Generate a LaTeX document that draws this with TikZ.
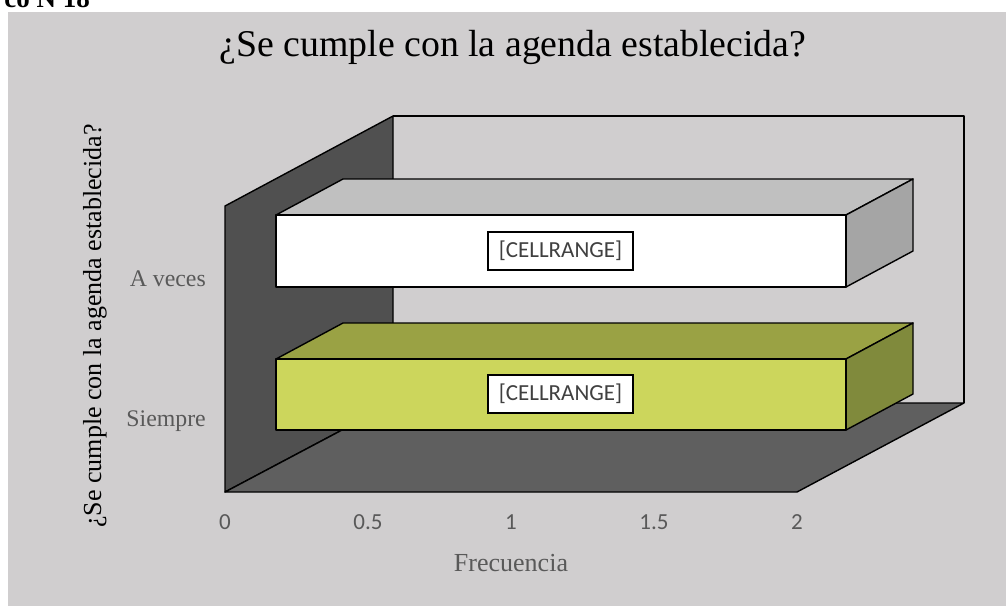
\documentclass[tikz,border=0pt]{standalone}
\usepackage{fontspec}
\setmainfont{Liberation Serif}
\newfontfamily\calibri{Carlito}
\definecolor{bgc}{RGB}{208,206,207}
\definecolor{wallc}{RGB}{80,80,80}
\definecolor{floorc}{RGB}{95,95,95}
\definecolor{wfront}{RGB}{255,255,255}
\definecolor{wtop}{RGB}{192,192,192}
\definecolor{wside}{RGB}{165,165,165}
\definecolor{gfront}{RGB}{204,214,92}
\definecolor{gtop}{RGB}{154,162,68}
\definecolor{gside}{RGB}{128,138,60}
\definecolor{labc}{RGB}{89,89,89}
\definecolor{cellc}{RGB}{64,64,64}
\begin{document}
\begin{tikzpicture}[x=1pt,y=-1pt,
  edge/.style={draw=black,line width=1.4pt,line join=round},
  ticklab/.style={font=\calibri\fontsize{23}{25}\selectfont,text=labc},
  catlab/.style={font=\fontsize{23.8}{26}\selectfont,text=labc,anchor=east,inner sep=0pt},
  cellbox/.style={draw=black,line width=1.2pt,fill=white,font=\calibri\fontsize{23}{25}\selectfont,text=cellc,minimum width=145pt,minimum height=38pt,inner sep=0pt}]
\useasboundingbox (0,0) rectangle (1006,606);
\clip (0,0) rectangle (1006,606);
\fill[bgc] (8,12) rectangle (1006,606);
\node[font=\bfseries\fontsize{27}{28}\selectfont,anchor=base east,inner sep=0pt] (fig) at (90,7) {co N 18};
% frame
\coordinate (F0) at (225,492);
\coordinate (FT) at (225,206);
\coordinate (FR) at (797,492);
\coordinate (B0) at (393,403);
\coordinate (BT) at (393,116);
\coordinate (BR) at (964,403);
\coordinate (BRT) at (964,116);
\draw[edge] (BT) -- (BRT) -- (BR);
\fill[wallc] (FT) -- (BT) -- (B0) -- (F0) -- cycle;
\draw[edge] (FT) -- (BT) -- (B0) -- (F0) -- cycle;
\filldraw[edge,fill=floorc] (F0) -- (B0) -- (BR) -- (FR) -- cycle;
% white bar
\filldraw[edge,fill=wtop] (276,215) -- (343,179) -- (913,179) -- (846,215) -- cycle;
\filldraw[edge,fill=wside] (846,215) -- (913,179) -- (913,251) -- (846,287) -- cycle;
\filldraw[edge,fill=wfront] (276,215) rectangle (846,287);
% green bar
\filldraw[edge,fill=gtop] (276,359) -- (343,323) -- (913,323) -- (846,359) -- cycle;
\filldraw[edge,fill=gside] (846,359) -- (913,323) -- (913,394) -- (846,430) -- cycle;
\filldraw[edge,fill=gfront] (276,359) rectangle (846,430);
% data labels
\node[cellbox] (c1) at (560.5,251) {[CELLRANGE]};
\node[cellbox] (c2) at (560.5,394) {[CELLRANGE]};
% title
\node[font=\fontsize{37.8}{40}\selectfont] (title) at (513,47) {¿Se cumple con la agenda establecida?};
\node[rotate=90,font=\fontsize{26}{28}\selectfont] (ytitle) at (95,326) {¿Se cumple con la agenda establecida?};
% categories
\node[catlab] (cat1) at (206,279) {A veces};
\node[catlab] (cat2) at (206,421) {Siempre};
% ticks
\node[ticklab] (t0) at (225,522) {0};
\node[ticklab] (t1) at (368,522) {0.5};
\node[ticklab] (t2) at (511,522) {1};
\node[ticklab] (t3) at (654,522) {1.5};
\node[ticklab] (t4) at (797,522) {2};
\node[font=\fontsize{26}{28}\selectfont,text=labc] (xtitle) at (511,563) {Frecuencia};
\end{tikzpicture}
\end{document}
